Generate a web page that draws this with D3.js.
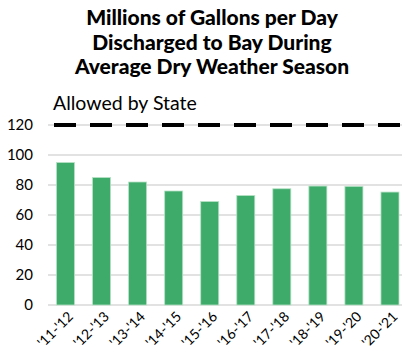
<!DOCTYPE html>
<meta charset="utf-8">
<style>
body { margin: 0; background: #fff; }
svg { font-family: Lato, "Open Sans", sans-serif; }
.grid line { stroke: #d9d9d9; stroke-width: 1.5px; }
.bar { fill: #3eab6b; stroke: #b7e2c6; stroke-width: 0.8px; }
</style>
<body>
<script src="https://cdn.jsdelivr.net/npm/d3@7"></script>
<script>
// data
var seasons = ["'11-'12", "'12-'13", "'13-'14", "'14-'15", "'15-'16",
               "'16-'17", "'17-'18", "'18-'19", "'19-'20", "'20-'21"];
var mgd = [95, 85, 82, 76, 69, 73, 77.5, 79.3, 79.1, 75.3];
var allowed = 120;
var yTicks = [0, 20, 40, 60, 80, 100, 120];
var titleLines = ["Millions of Gallons per Day", "Discharged to Bay During", "Average Dry Weather Season"];

var W = 402, H = 355;
var svg = d3.select("body").append("svg")
    .attr("width", W)
    .attr("height", H);

var x = d3.scaleBand().domain(seasons).range([47.5, 408]).paddingInner(0.5).paddingOuter(0.25);
var y = d3.scaleLinear().domain([0, 120]).range([305, 125]);

// title
svg.append("g").selectAll("text")
    .data(titleLines)
  .enter().append("text")
    .attr("x", 212)
    .attr("y", function(d, i) { return 25 + i * 24.5; })
    .attr("text-anchor", "middle")
    .style("font-size", "21px")
    .style("font-weight", "900")
    .text(function(d) { return d; });

// gridlines
svg.append("g").attr("class", "grid")
  .selectAll("line")
    .data(yTicks)
  .enter().append("line")
    .attr("x1", 48).attr("x2", W)
    .attr("y1", function(d) { return y(d); })
    .attr("y2", function(d) { return y(d); });

// y labels
svg.append("g").selectAll("text")
    .data(yTicks)
  .enter().append("text")
    .attr("x", 33)
    .attr("y", function(d) { return y(d); })
    .attr("dy", "0.35em")
    .attr("text-anchor", "end")
    .style("font-size", "15px")
    .text(function(d) { return d; });

// bars
svg.append("g").selectAll("rect")
    .data(mgd)
  .enter().append("rect")
    .attr("class", "bar")
    .attr("x", function(d, i) { return x(seasons[i]); })
    .attr("width", x.bandwidth())
    .attr("y", function(d) { return y(d); })
    .attr("height", function(d) { return y(0) - y(d); });

// allowed by state line
svg.append("line")
    .attr("x1", 54).attr("x2", W)
    .attr("y1", y(allowed)).attr("y2", y(allowed))
    .style("stroke", "#000")
    .style("stroke-width", 4)
    .style("stroke-dasharray", "22,14");

svg.append("text")
    .attr("x", 53)
    .attr("y", 110)
    .style("font-size", "19.5px")
    .text("Allowed by State");

// x labels, rotated
svg.append("g").selectAll("text")
    .data(seasons)
  .enter().append("text")
    .attr("transform", function(d) {
      return "translate(" + (x(d) + x.bandwidth() / 2 + 5) + ",314) rotate(-45)";
    })
    .attr("text-anchor", "end")
    .attr("dy", "0.35em")
    .style("font-size", "14px")
    .text(function(d) { return d; });
</script>
</body>
